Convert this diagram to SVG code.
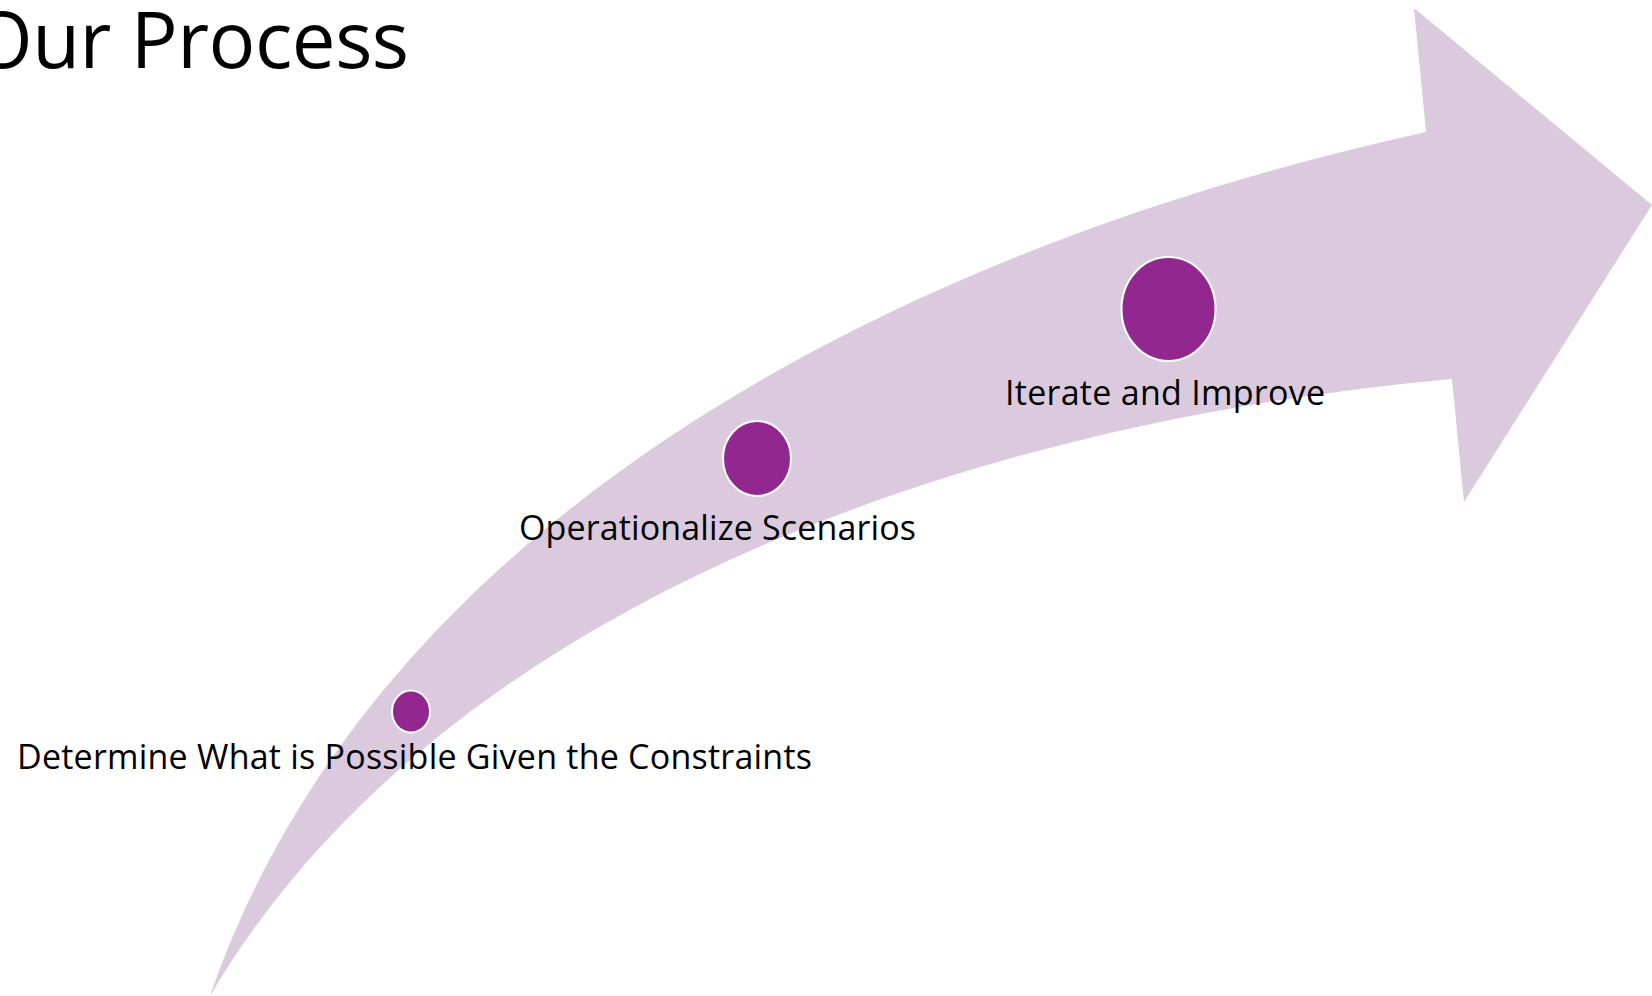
<svg xmlns="http://www.w3.org/2000/svg" width="1652" height="996" viewBox="0 0 1652 996">
  <style>
    .lbl { font-family: "Open Sans", "Noto Sans", "Liberation Sans", sans-serif; font-size: 34px; fill: #000000; }
    .title { font-family: "Open Sans", "Noto Sans", "Liberation Sans", sans-serif; font-size: 78px; fill: #000000; }
    .dot { fill: #92278F; stroke: #FFFFFF; stroke-width: 2; }
    .arrow { fill: #DBCADD; stroke: none; }
  </style>
  <rect x="0" y="0" width="1652" height="996" fill="#FFFFFF"/>
  <g id="title">
    <text class="title" x="-28" y="68" textLength="437">Our Process</text>
  </g>
  <g id="connectors">
    <path id="arrow" class="arrow" d="M210,996 C370,532 876,253 1426,132 L1414,8 L1652,205 L1464,502 L1452,379 C952,424 435,613 210,996 Z"/>
  </g>
  <g id="step1">
    <ellipse class="dot" cx="411" cy="711.5" rx="19" ry="21"/>
    <text class="lbl" x="17" y="769" textLength="795">Determine What is Possible Given the Constraints</text>
  </g>
  <g id="step2">
    <ellipse class="dot" cx="757" cy="458.5" rx="34" ry="37.5"/>
    <text class="lbl" x="519" y="540" textLength="397">Operationalize Scenarios</text>
  </g>
  <g id="step3">
    <ellipse class="dot" cx="1168.5" cy="309" rx="47" ry="52"/>
    <text class="lbl" x="1005" y="405" textLength="320">Iterate and Improve</text>
  </g>
</svg>
